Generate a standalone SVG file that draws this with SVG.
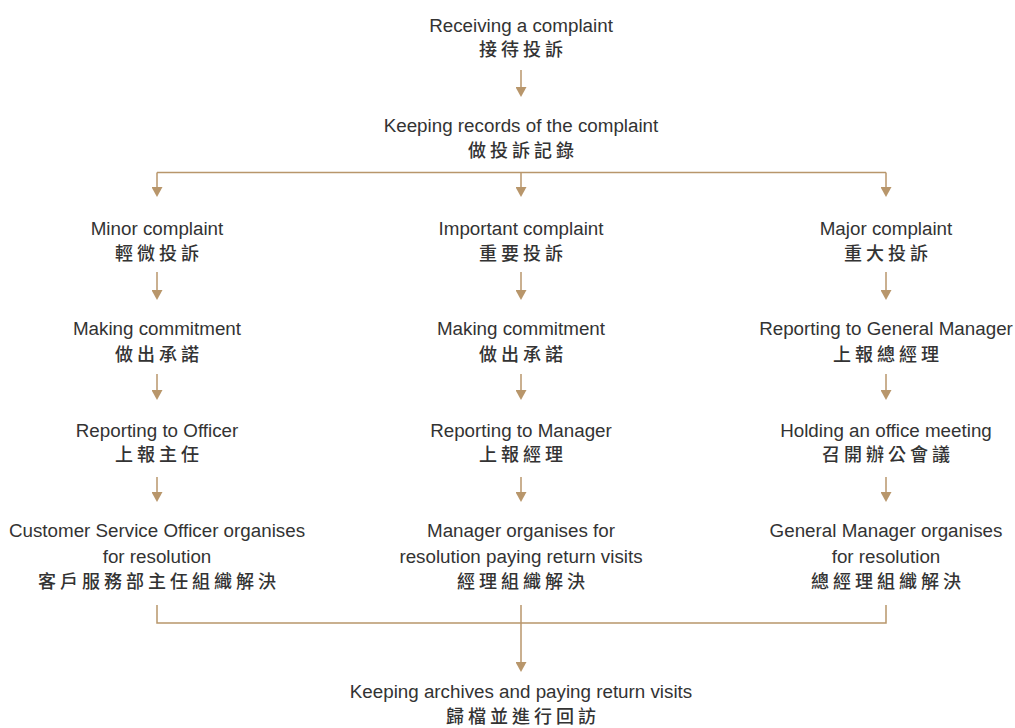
<svg xmlns="http://www.w3.org/2000/svg" width="1015" height="728" viewBox="0 0 1015 728">
<style>
.en{font-family:"Liberation Sans",Arial,sans-serif;font-size:18.8px;fill:#333;text-anchor:middle}
.zh{font-family:"Noto Sans CJK TC","Noto Sans CJK SC",sans-serif;font-size:18px;font-weight:500;letter-spacing:4px;fill:#333;text-anchor:middle}
.ln{stroke:#b8966b;stroke-width:1.5;fill:none}
.ar{marker-end:url(#ah)}
</style>
<defs>
<marker id="ah" viewBox="0 -5.5 10 11" refX="0" refY="0" markerWidth="10" markerHeight="11" markerUnits="userSpaceOnUse" orient="auto">
<path d="M0,-5.5 L10,0 L0,5.5 Z" fill="#b8966b"/>
</marker>
</defs>
<rect width="1015" height="728" fill="#fff"/>
<g id="connectors">
<line class="ln ar" x1="521" y1="70" x2="521" y2="87"/>
<line class="ln" x1="157" y1="172.5" x2="886" y2="172.5"/>
<line class="ln ar" x1="157" y1="172.5" x2="157" y2="187"/>
<line class="ln ar" x1="521" y1="172.5" x2="521" y2="187"/>
<line class="ln ar" x1="886" y1="172.5" x2="886" y2="187"/>
<line class="ln ar" x1="157" y1="272" x2="157" y2="290"/>
<line class="ln ar" x1="521" y1="272" x2="521" y2="290"/>
<line class="ln ar" x1="886" y1="272" x2="886" y2="290"/>
<line class="ln ar" x1="157" y1="374" x2="157" y2="390"/>
<line class="ln ar" x1="521" y1="374" x2="521" y2="390"/>
<line class="ln ar" x1="886" y1="374" x2="886" y2="390"/>
<line class="ln ar" x1="157" y1="477" x2="157" y2="492"/>
<line class="ln ar" x1="521" y1="477" x2="521" y2="492"/>
<line class="ln ar" x1="886" y1="477" x2="886" y2="492"/>
<path class="ln" d="M157,605 V623 H886 V605"/>
<line class="ln ar" x1="521" y1="605" x2="521" y2="662"/>
</g>
<g id="receiving">
<text class="en" x="521" y="32">Receiving a complaint</text>
<text class="zh" x="523" y="56">接待投訴</text>
</g>
<g id="records">
<text class="en" x="521" y="132">Keeping records of the complaint</text>
<text class="zh" x="523" y="157">做投訴記錄</text>
</g>
<g id="minor">
<text class="en" x="157" y="235">Minor complaint</text>
<text class="zh" x="159" y="260">輕微投訴</text>
</g>
<g id="important">
<text class="en" x="521" y="235">Important complaint</text>
<text class="zh" x="523" y="260">重要投訴</text>
</g>
<g id="major">
<text class="en" x="886" y="235">Major complaint</text>
<text class="zh" x="888" y="260">重大投訴</text>
</g>
<g id="commit-left">
<text class="en" x="157" y="335">Making commitment</text>
<text class="zh" x="159" y="361">做出承諾</text>
</g>
<g id="commit-mid">
<text class="en" x="521" y="335">Making commitment</text>
<text class="zh" x="523" y="361">做出承諾</text>
</g>
<g id="report-gm">
<text class="en" x="886" y="335">Reporting to General Manager</text>
<text class="zh" x="888" y="361">上報總經理</text>
</g>
<g id="report-officer">
<text class="en" x="157" y="437">Reporting to Officer</text>
<text class="zh" x="159" y="461">上報主任</text>
</g>
<g id="report-manager">
<text class="en" x="521" y="437">Reporting to Manager</text>
<text class="zh" x="523" y="461">上報經理</text>
</g>
<g id="meeting">
<text class="en" x="886" y="437">Holding an office meeting</text>
<text class="zh" x="888" y="461">召開辦公會議</text>
</g>
<g id="cso-resolve">
<text class="en" x="157" y="537">Customer Service Officer organises</text>
<text class="en" x="157" y="563">for resolution</text>
<text class="zh" x="159" y="588">客戶服務部主任組織解決</text>
</g>
<g id="manager-resolve">
<text class="en" x="521" y="537">Manager organises for</text>
<text class="en" x="521" y="563">resolution paying return visits</text>
<text class="zh" x="523" y="588">經理組織解決</text>
</g>
<g id="gm-resolve">
<text class="en" x="886" y="537">General Manager organises</text>
<text class="en" x="886" y="563">for resolution</text>
<text class="zh" x="888" y="588">總經理組織解決</text>
</g>
<g id="archives">
<text class="en" x="521" y="698">Keeping archives and paying return visits</text>
<text class="zh" x="523" y="723">歸檔並進行回訪</text>
</g>
</svg>
